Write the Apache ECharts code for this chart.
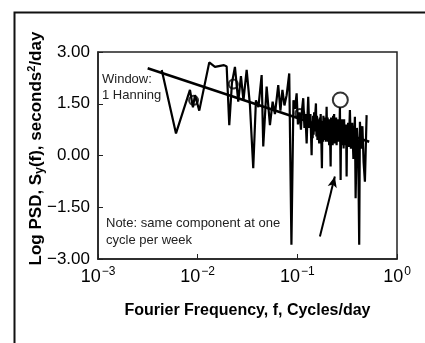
<!DOCTYPE html>
<html><head><meta charset="utf-8">
<script src="https://cdn.jsdelivr.net/npm/echarts@6/dist/echarts.min.js"></script>
<style>html,body{margin:0;padding:0;background:#fff}#c{width:425px;height:343px}</style>
</head><body><div id="c"></div>
<script>
// Fourier frequency (cycles/day) and Log PSD values
var freq = [0.00436,0.00606,0.00837,0.00897,0.00940,0.01038,0.01307,0.01491,0.01836,0.01954,
0.02075,0.02208,0.02366,0.02554,0.02718,0.02880,0.03101,0.03346,0.03611,0.03843,
0.04071,0.04384,0.04550,0.04921,0.05311,0.05652,0.05961,0.06433,0.06768,0.07087,
0.07423,0.07810,0.08294,0.08726,0.09140,0.0946,0.0984,0.1014,0.1050,0.1087,
0.1112,0.1146,0.1178,0.1205,0.1240,0.1263,0.1286,0.1316,0.1354,0.1391,
0.1408,0.1424,0.1440,0.1457,0.1474,0.1491,0.1514,0.1537,0.1555,0.1573,
0.1591,0.1609,0.1633,0.1658,0.1677,0.1697,0.1715,0.1733,0.1765,0.1785,
0.1806,0.1827,0.1849,0.1870,0.1892,0.1930,0.1967,0.1990,0.2013,0.2036,
0.2060,0.2085,0.2109,0.2133,0.2158,0.2183,0.2208,0.2234,0.2260,0.2286,
0.2312,0.2340,0.2366,0.2394,0.2422,0.2450,0.2478,0.2507,0.2536,0.2565,
0.2595,0.2620,0.2644,0.2674,0.2718,0.2750,0.2781,0.2814,0.2847,0.2880,
0.2913,0.2947,0.2981,0.3015,0.3050,0.3085,0.3122,0.3158,0.3195,0.3232,
0.3269,0.3320,0.3369,0.3448,0.3553,0.3652,0.3781,0.3843,0.3960,0.4082,
0.4177,0.4246,0.4375,0.4498,0.4624,0.4764,0.4955];
var psd = [2.48,0.64,1.90,1.40,1.75,1.30,2.70,2.57,2.62,2.58,
0.88,2.10,2.57,1.56,2.30,1.60,2.48,1.46,-0.37,1.60,
1.40,2.33,0.26,2.00,0.88,1.56,1.20,2.04,1.30,1.90,
1.45,1.75,2.38,-2.59,1.60,1.35,1.80,0.90,1.25,0.75,
1.30,1.66,0.80,1.20,0.35,1.10,1.70,0.80,1.20,0.01,
0.90,0.50,1.15,0.60,1.25,0.70,1.20,1.51,0.55,1.15,
0.45,1.05,0.60,0.35,1.10,0.55,1.20,0.70,-0.37,1.00,
0.40,1.15,0.45,0.95,1.10,0.40,1.41,0.55,1.10,0.40,
1.00,0.30,1.05,0.45,-0.32,1.10,0.40,1.00,0.30,1.15,
0.60,1.20,0.35,1.00,0.45,1.10,0.30,0.95,0.55,1.05,
0.40,0.95,0.55,1.41,-0.71,0.95,0.40,1.05,0.30,0.90,
0.20,1.05,0.45,0.85,0.30,0.90,-0.61,0.85,0.30,0.95,
0.25,0.70,1.32,0.20,0.95,-0.10,1.12,-1.24,0.80,0.10,
-2.59,0.98,0.20,0.85,-0.20,-0.76,1.17];
// fitted trend line end points
var trendFreq = [0.00315, 0.526];
var trendPsd = [2.53, 0.40];
// circled components
var smallCircleFreq = [0.0091, 0.02276, 0.1060];
var smallCirclePsd = [1.60, 2.07, 1.22];
var bigCircleFreq = [0.270];
var bigCirclePsd = [1.61];
// arrow (tail -> head)
var arrowFreq = [0.1685, 0.238];
var arrowPsd = [-2.35, -0.61];
// tick labels
var xTickExp = ['\u22123', '\u22122', '\u22121', '0'];
var yTickLabels = ['\u22123.00', '\u22121.50', '0.00', '1.50', '3.00'];

function pairs(a, b) { return a.map(function (v, i) { return [v, b[i]]; }); }

var chart = echarts.init(document.getElementById('c'), null, {renderer: 'canvas'});
var sans = '"Liberation Sans", Arial, sans-serif';
chart.setOption({
  animation: false,
  backgroundColor: '#fff',
  grid: {left: 98, right: 28, top: 52, bottom: 84, show: true, borderColor: '#222', borderWidth: 1.5, backgroundColor: 'transparent'},
  xAxis: {
    type: 'log', logBase: 10, min: 0.001, max: 1,
    name: 'Fourier Frequency, f, Cycles/day', nameLocation: 'middle', nameGap: 44,
    nameTextStyle: {fontFamily: sans, fontWeight: 'bold', fontSize: 16, color: '#000'},
    axisLine: {show: true, onZero: false, lineStyle: {color: '#222', width: 1.5}},
    axisTick: {show: true, inside: true, length: 5, lineStyle: {color: '#222', width: 1}},
    minorTick: {show: false}, splitLine: {show: false},
    axisLabel: {
      margin: 7,
      formatter: function (v) { var e = Math.round(Math.log10(v)); return '{b|10}{s|' + xTickExp[e + 3] + '}'; },
      rich: {
        b: {fontFamily: sans, fontSize: 18, color: '#000', verticalAlign: 'bottom'},
        s: {fontFamily: sans, fontSize: 12, color: '#000', verticalAlign: 'top', padding: [0, 0, 8, 1]}
      }
    }
  },
  yAxis: {
    type: 'value', min: -3, max: 3, interval: 1.5,
    name: 'Log PSD, S{sub|y}(f), seconds{sup|2}/day', nameLocation: 'middle', nameGap: 52, nameRotate: 90,
    nameMoveOverlap: false,
    nameTextStyle: {fontFamily: sans, fontWeight: 'bold', fontSize: 17, color: '#000', padding: [0, 0, 0, 14],
      rich: {
        sub: {fontFamily: sans, fontWeight: 'bold', fontSize: 12, color: '#000', padding: [7, 0, 0, 0]},
        sup: {fontFamily: sans, fontWeight: 'bold', fontSize: 11, color: '#000', padding: [0, 0, 9, 0]}
      }},
    axisLine: {show: true, lineStyle: {color: '#222', width: 1.5}},
    axisTick: {show: true, inside: true, length: 5, lineStyle: {color: '#222', width: 1}},
    splitLine: {show: false},
    axisLabel: {margin: 8, fontFamily: sans, fontSize: 17, color: '#000',
      formatter: function (v) { return yTickLabels[Math.round(v / 1.5) + 2]; }}
  },
  series: [
    {type: 'line', data: pairs(freq, psd), showSymbol: false, symbol: 'none',
      lineStyle: {color: '#000', width: 2.2}, z: 3},
    {type: 'line', data: pairs(trendFreq, trendPsd), showSymbol: false, symbol: 'none',
      lineStyle: {color: '#000', width: 2.5}, z: 4},
    {type: 'scatter', data: pairs(smallCircleFreq, smallCirclePsd), symbol: 'circle', symbolSize: 9,
      itemStyle: {color: 'rgba(0,0,0,0)', borderColor: '#000', borderWidth: 2}, z: 5},
    {type: 'scatter', data: pairs(bigCircleFreq, bigCirclePsd), symbol: 'circle', symbolSize: 15,
      itemStyle: {color: '#fff', borderColor: '#000', borderWidth: 2}, z: 5},
    {type: 'line', data: [], markLine: {silent: true, symbol: ['none', 'arrow'], symbolSize: [7, 11],
      lineStyle: {color: '#000', width: 2, type: 'solid'}, label: {show: false},
      data: [[{coord: [arrowFreq[0], arrowPsd[0]]}, {coord: [arrowFreq[1], arrowPsd[1]]}]]}}
  ],
  graphic: [
    {type: 'rect', left: 12, top: 10, shape: {width: 412, height: 345}, style: {fill: 'none', stroke: '#111', lineWidth: 2}, silent: true},
    {type: 'text', left: 102, top: 73, style: {text: 'Window:', font: '13px ' + sans, fill: '#222'}},
    {type: 'text', left: 102, top: 89, style: {text: '1 Hanning', font: '13px ' + sans, fill: '#222'}},
    {type: 'text', left: 106, top: 217, style: {text: 'Note: same component at one', font: '13px ' + sans, fill: '#222'}},
    {type: 'text', left: 106, top: 234, style: {text: 'cycle per week', font: '13px ' + sans, fill: '#222'}}
  ]
});
</script></body></html>
